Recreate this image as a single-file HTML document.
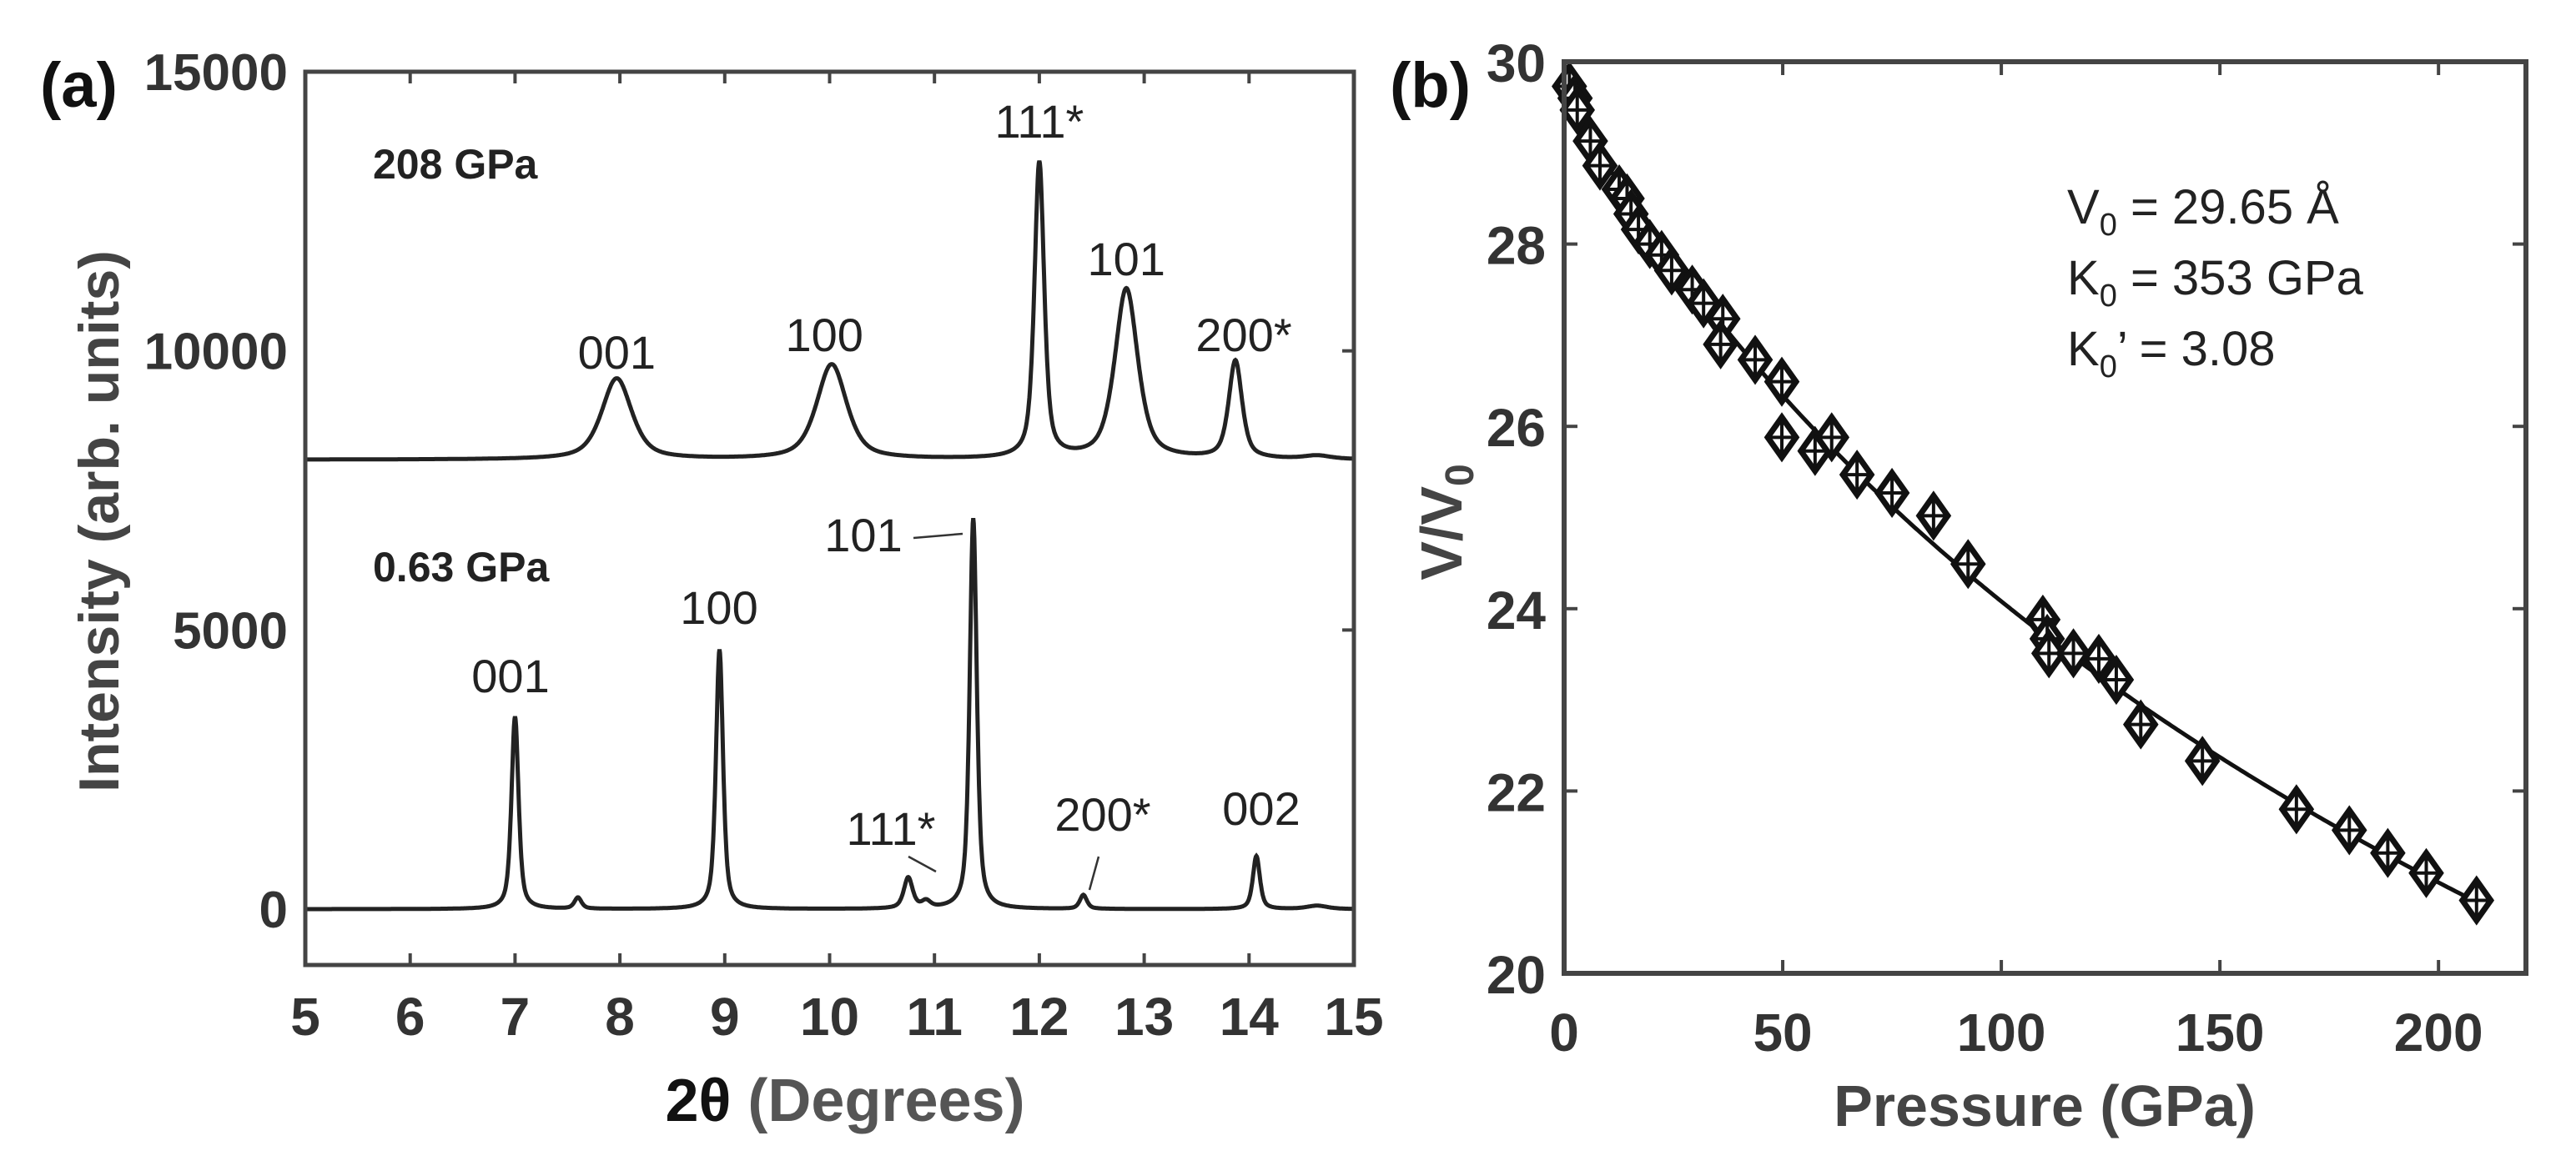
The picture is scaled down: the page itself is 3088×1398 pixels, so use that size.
<!DOCTYPE html>
<html><head><meta charset="utf-8"><style>
html,body{margin:0;padding:0;background:#fff;}
svg{display:block;}
text{font-family:"Liberation Sans",sans-serif;}
</style></head><body>
<svg id="fig" width="3088" height="1398" viewBox="0 0 3088 1398" xmlns="http://www.w3.org/2000/svg">
<g id="pa"></g>
<g id="pb"></g>
</svg>
<script>
// ---- Panel (a) data: XRD peaks ----
const xTicksA = [5,6,7,8,9,10,11,12,13,14,15];
const yTicksA = [0,5000,10000,15000];
const highBase = 8050;
const highPos = [7.97, 10.02, 12.0, 12.83, 13.87, 14.65];
const highAmp = [1450, 1700, 5300, 3050, 1750, 60];
const highWid = [0.17, 0.17, 0.055, 0.13, 0.075, 0.15];
const lowBase = 0;
const lowPos = [7.0, 7.6, 8.95, 10.75, 10.92, 11.37, 12.42, 14.07, 14.65];
const lowAmp = [3450, 200, 4650, 550, 120, 7000, 250, 950, 60];
const lowWid = [0.04, 0.04, 0.04, 0.05, 0.05, 0.04, 0.04, 0.04, 0.12];
const highLabels = [["001",7.97,442],["100",9.95,421],["111*",12.0,165],["101",12.83,330],["200*",13.95,421]];

// ---- Panel (b) data: P-V ----
const xTicksB = [0,50,100,150,200];
const yTicksB = [20,22,24,26,28,30];
const pressure = [1.2,2.5,3,6,8.2,12.6,14.4,15.3,17,19.6,22.3,24.6,29.3,31.9,36.3,35.8,43.7,49.8,49.8,57.4,61.2,67,75,84.5,92.4,109.5,110.5,110.9,116.5,122.3,126.3,131.9,146,167.5,179.6,188.4,197.2,208.7];
const volume = [29.73,29.6,29.47,29.13,28.86,28.6,28.5,28.33,28.16,28.0,27.88,27.71,27.5,27.35,27.18,26.9,26.73,26.49,25.88,25.73,25.88,25.47,25.27,25.02,24.49,23.88,23.67,23.51,23.51,23.45,23.22,22.73,22.33,21.8,21.57,21.32,21.1,20.8];
const eosV0 = 29.65, eosK0 = 353, eosK0p = 3.08;

const NS = "http://www.w3.org/2000/svg";
function mk(parent, tag, attrs, txt){
  const e = document.createElementNS(NS, tag);
  for (const k in attrs) e.setAttribute(k, attrs[k]);
  if (txt !== undefined) e.textContent = txt;
  parent.appendChild(e); return e;
}

// ===== Panel A =====
const pa = document.getElementById('pa');
const aL=366, aR=1623, aT=86, aB=1157;
const ax = v => aL + (v-5)/(15-5)*(aR-aL);
const ay = v => aB - (v+1000)/(16000)*(aB-aT);

let e;
e = mk(pa,'text',{x:48,y:128,'font-size':76,'font-weight':'bold',fill:'#111'},'(a)');
 

yTicksA.forEach(t=>{
  const l = mk(pa,'text',{x:345,y:ay(t)+22,'font-size':62,'font-weight':'bold','text-anchor':'end',fill:'#333'},String(t));
   
  if(t>0 && t<15000){
    const tk = mk(pa,'line',{x1:aR,x2:aR-14,y1:ay(t),y2:ay(t),stroke:'#444','stroke-width':4});
     
  }
});
xTicksA.forEach(t=>{
  const l = mk(pa,'text',{x:ax(t),y:1241,'font-size':64,'font-weight':'bold','text-anchor':'middle',fill:'#333'},String(t));
   
  if(t>5 && t<15){
    const tk = mk(pa,'line',{x1:ax(t),x2:ax(t),y1:aB,y2:aB-14,stroke:'#444','stroke-width':4});
     
    const tk2 = mk(pa,'line',{x1:ax(t),x2:ax(t),y1:aT,y2:aT+14,stroke:'#444','stroke-width':4});
     
  }
});

function trace(base,pos,amp,wid){
  let d='';
  for(let i=0;i<=2000;i++){
    const x=5+i*10/2000;
    let y=base;
    for(let k=0;k<pos.length;k++){
      const u=(x-pos[k])/wid[k];
      y+=amp[k]*(0.6/(1+u*u)+0.4*Math.exp(-u*u*0.693));
    }
    d+=(i?'L':'M')+ax(x).toFixed(1)+','+ay(y).toFixed(1);
  }
  return d;
}
e = mk(pa,'path',{d:trace(highBase,highPos,highAmp,highWid),fill:'none',stroke:'#222','stroke-width':5});
 
e = mk(pa,'path',{d:trace(lowBase,lowPos,lowAmp,lowWid),fill:'none',stroke:'#222','stroke-width':5});
 

e = mk(pa,'rect',{x:aL,y:aT,width:aR-aL,height:aB-aT,fill:'none',stroke:'#444','stroke-width':5});
 

highLabels.forEach(h=>{
  const l = mk(pa,'text',{x:ax(h[1]),y:h[2],'font-size':56,'text-anchor':'middle',fill:'#222'},h[0]);
   
});
const lowLabels=[["001",612,830],["100",862,748],["101",1035,661],["111*",1068,1013],["200*",1322,996],["002",1512,989]];
lowLabels.forEach(h=>{
  const l = mk(pa,'text',{x:h[1],y:h[2],'font-size':56,'text-anchor':'middle',fill:'#222'},h[0]);
   
});
[[1095,645,1154,640],[1089,1027,1122,1045],[1317,1027,1306,1067]].forEach(s=>{
  const l = mk(pa,'line',{x1:s[0],y1:s[1],x2:s[2],y2:s[3],stroke:'#333','stroke-width':2.5});
   
});
e = mk(pa,'text',{x:447,y:214,'font-size':50,'font-weight':'bold',fill:'#222'},'208 GPa');
 
e = mk(pa,'text',{x:447,y:697,'font-size':50,'font-weight':'bold',fill:'#222'},'0.63 GPa');
 

e = mk(pa,'text',{x:1013,y:1344,'font-size':72,'font-weight':'bold','text-anchor':'middle',fill:'#555'});
 
mk(e,'tspan',{fill:'#111'},'2θ');
mk(e,'tspan',{},' (Degrees)');
e = mk(pa,'text',{x:0,y:0,'font-size':68,'font-weight':'bold','text-anchor':'middle',fill:'#444',transform:'translate(142,625) rotate(-90)'},'Intensity (arb. units)');
 

// ===== Panel B =====
const pb = document.getElementById('pb');
const bL=1875, bR=3028, bT=74, bB=1167;
const bx = v => bL + v/220*(bR-bL);
const by = v => bB - (v-20)/10*(bB-bT);

e = mk(pb,'text',{x:1666,y:128,'font-size':76,'font-weight':'bold',fill:'#111'},'(b)');
 

yTicksB.forEach(t=>{
  const l = mk(pb,'text',{x:1853,y:by(t)+24,'font-size':64,'font-weight':'bold','text-anchor':'end',fill:'#333'},String(t));
   
  if(t>20 && t<30){
    [[bL,bL+16],[bR,bR-16]].forEach(p=>{
      const tk = mk(pb,'line',{x1:p[0],x2:p[1],y1:by(t),y2:by(t),stroke:'#444','stroke-width':4});
       
    });
  }
});
xTicksB.forEach(t=>{
  const l = mk(pb,'text',{x:bx(t),y:1260,'font-size':64,'font-weight':'bold','text-anchor':'middle',fill:'#333'},String(t));
   
  if(t>0){
    [[bB,bB-16],[bT,bT+16]].forEach(p=>{
      const tk = mk(pb,'line',{x1:bx(t),x2:bx(t),y1:p[0],y2:p[1],stroke:'#444','stroke-width':4});
       
    });
  }
});

// EOS fit curve (3rd order Birch-Murnaghan)
function bmP(V){
  const eta=eosV0/V;
  const f=Math.pow(eta,2/3)-1;
  return 1.5*eosK0*(Math.pow(eta,7/3)-Math.pow(eta,5/3))*(1+0.75*(eosK0p-4)*f);
}
let d='';
for(let i=0;i<=400;i++){
  const V=eosV0-i*(eosV0-20.7)/400;
  const P=bmP(V);
  if(P>212) break;
  d+=(i?'L':'M')+bx(P).toFixed(1)+','+by(V).toFixed(1);
}
e = mk(pb,'path',{d:d,fill:'none',stroke:'#111','stroke-width':5});
 

pressure.forEach((p,i)=>{
  const cx=bx(p), cy=by(volume[i]);
  const g = mk(pb,'g',{});
   
  mk(g,'path',{d:`M${cx},${cy-24}L${cx+17},${cy}L${cx},${cy+24}L${cx-17},${cy}Z`,fill:'#fff',stroke:'#111','stroke-width':7});
  mk(g,'path',{d:`M${cx-20},${cy}H${cx+20}M${cx},${cy-20}V${cy+20}`,stroke:'#111','stroke-width':4});
});

e = mk(pb,'rect',{x:bL,y:bT,width:bR-bL,height:bB-bT,fill:'none',stroke:'#444','stroke-width':6});
 

const ann=[["V","0"," = 29.65 Å",268],["K","0"," = 353 GPa",353],["K","0","’ = 3.08",438]];
ann.forEach(a=>{
  const t = mk(pb,'text',{x:2478,y:a[3],'font-size':58,fill:'#222'});
   
  mk(t,'tspan',{},a[0]);
  mk(t,'tspan',{'font-size':38,dy:14},a[1]);
  mk(t,'tspan',{dy:-14},a[2]);
});

e = mk(pb,'text',{x:2451,y:1350,'font-size':70,'font-weight':'bold','text-anchor':'middle',fill:'#444'},'Pressure (GPa)');
 
e = mk(pb,'text',{x:0,y:0,'font-size':70,'font-weight':'bold','text-anchor':'middle',fill:'#444',transform:'translate(1752,626) rotate(-90)'});
 
mk(e,'tspan',{},'V/V');
mk(e,'tspan',{'font-size':48,dy:14},'0');
</script>
</body></html>
